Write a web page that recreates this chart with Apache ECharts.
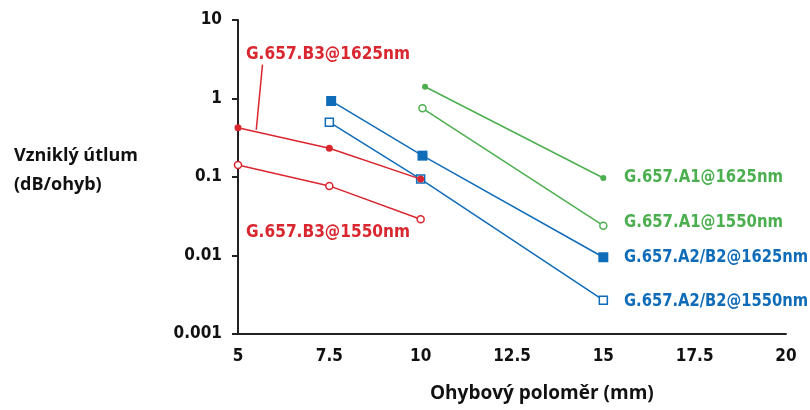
<!DOCTYPE html>
<html>
<head>
<meta charset="utf-8">
<script src="https://cdn.jsdelivr.net/npm/echarts@6/dist/echarts.min.js"></script>
<style>
  html, body { margin: 0; padding: 0; background: #fff; }
  #chart { width: 810px; height: 410px; }
</style>
</head>
<body>
<div id="chart"></div>
<script>
// ohybovy polomer (mm) vs. vznikly utlum (dB/ohyb)
var xTicks = ['5', '7.5', '10', '12.5', '15', '17.5', '20']
var yTicks = ['0.001', '0.01', '0.1', '1', '10']

var b3_1625 = [[5, 0.425], [7.5, 0.232], [10, 0.094]]
var b3_1550 = [[5, 0.142], [7.5, 0.077], [10, 0.029]]
var a2b2_1625 = [[7.55, 0.93], [10.05, 0.187], [15, 0.0095]]
var a2b2_1550 = [[7.5, 0.50], [10, 0.094], [15, 0.0027]]
var a1_1625 = [[10.12, 1.41], [15, 0.097]]
var a1_1550 = [[10.05, 0.75], [15, 0.024]]
// odkazova cara k popisku G.657.B3@1625nm
var leader = [[5.5, 0.40], [5.67, 2.7]]

var RED = '#d9262f'
var BLUE = '#0f6cb8'
var GREEN = '#4caf4f'
var narrow = "'Liberation Sans Narrow', 'DejaVu Sans Condensed', sans-serif"
var titleFont = "'Open Sans', 'Noto Sans', sans-serif"

function line(name, data, color, symbol, size, hollow) {
  return {
    name: name,
    type: 'line',
    data: data,
    symbol: symbol,
    symbolSize: size,
    showAllSymbol: true,
    lineStyle: { color: color, width: 1.5 },
    itemStyle: {
      color: hollow ? '#fff' : color,
      borderColor: color,
      borderWidth: hollow ? 1.5 : 0
    },
    z: hollow ? 3 : 4
  }
}

// popisky serii - pismo stlacene do sirky
function tag(text, x, y, color, sx) {
  return {
    type: 'text', x: x, y: y, scaleX: sx,
    style: { text: text, font: 'bold 18px ' + narrow, fill: color, verticalAlign: 'top' }
  }
}

var chart = echarts.init(document.getElementById('chart'))
chart.setOption({
  animation: false,
  grid: { left: 238, right: 24, top: 20, bottom: 76, containLabel: false },
  xAxis: {
    type: 'value',
    min: 5,
    max: 20,
    interval: 2.5,
    axisLine: { lineStyle: { color: '#222', width: 2 } },
    axisTick: { show: false },
    splitLine: { show: false },
    axisLabel: {
      margin: 14,
      fontFamily: narrow, fontWeight: 'bold', fontSize: 17, color: '#111',
      formatter: function (v) {
        var i = Math.round((v - 5) / 2.5)
        return xTicks[i]
      }
    }
  },
  yAxis: {
    type: 'log',
    logBase: 10,
    min: 0.001,
    max: 10,
    axisLine: { show: true, lineStyle: { color: '#222', width: 2 } },
    axisTick: { show: true, length: 6, lineStyle: { color: '#222', width: 2 } },
    splitLine: { show: false },
    minorTick: { show: false },
    axisLabel: {
      margin: 16,
      fontFamily: narrow, fontWeight: 'bold', fontSize: 17, color: '#111',
      formatter: function (v) {
        var i = Math.round(Math.log10(v)) + 3
        return yTicks[i]
      }
    }
  },
  series: [
    {
      name: 'leader',
      type: 'line',
      data: leader,
      symbol: 'none',
      lineStyle: { color: RED, width: 1.5 },
      silent: true
    },
    line('G.657.B3@1625nm', b3_1625, RED, 'circle', 7, false),
    line('G.657.B3@1550nm', b3_1550, RED, 'circle', 7, true),
    line('G.657.A2/B2@1625nm', a2b2_1625, BLUE, 'rect', 10, false),
    line('G.657.A2/B2@1550nm', a2b2_1550, BLUE, 'rect', 8, true),
    line('G.657.A1@1625nm', a1_1625, GREEN, 'circle', 6, false),
    line('G.657.A1@1550nm', a1_1550, GREEN, 'circle', 7, true)
  ],
  graphic: [
    { type: 'text', left: 14, top: 141, style: { text: 'Vzniklý útlum\n(dB/ohyb)', font: 'bold 18px ' + titleFont, fill: '#111', lineHeight: 29 } },
    { type: 'text', left: 430, top: 384, style: { text: 'Ohybový poloměr (mm)', font: 'bold 19px ' + titleFont, fill: '#111' } },
    tag('G.657.B3@1625nm', 246, 45, RED, 0.95),
    tag('G.657.B3@1550nm', 246, 223, RED, 0.95),
    tag('G.657.A1@1625nm', 624, 168, GREEN, 0.92),
    tag('G.657.A1@1550nm', 624, 213, GREEN, 0.92),
    tag('G.657.A2/B2@1625nm', 624, 248, BLUE, 0.91),
    tag('G.657.A2/B2@1550nm', 624, 292, BLUE, 0.91)
  ]
})
</script>
</body>
</html>
